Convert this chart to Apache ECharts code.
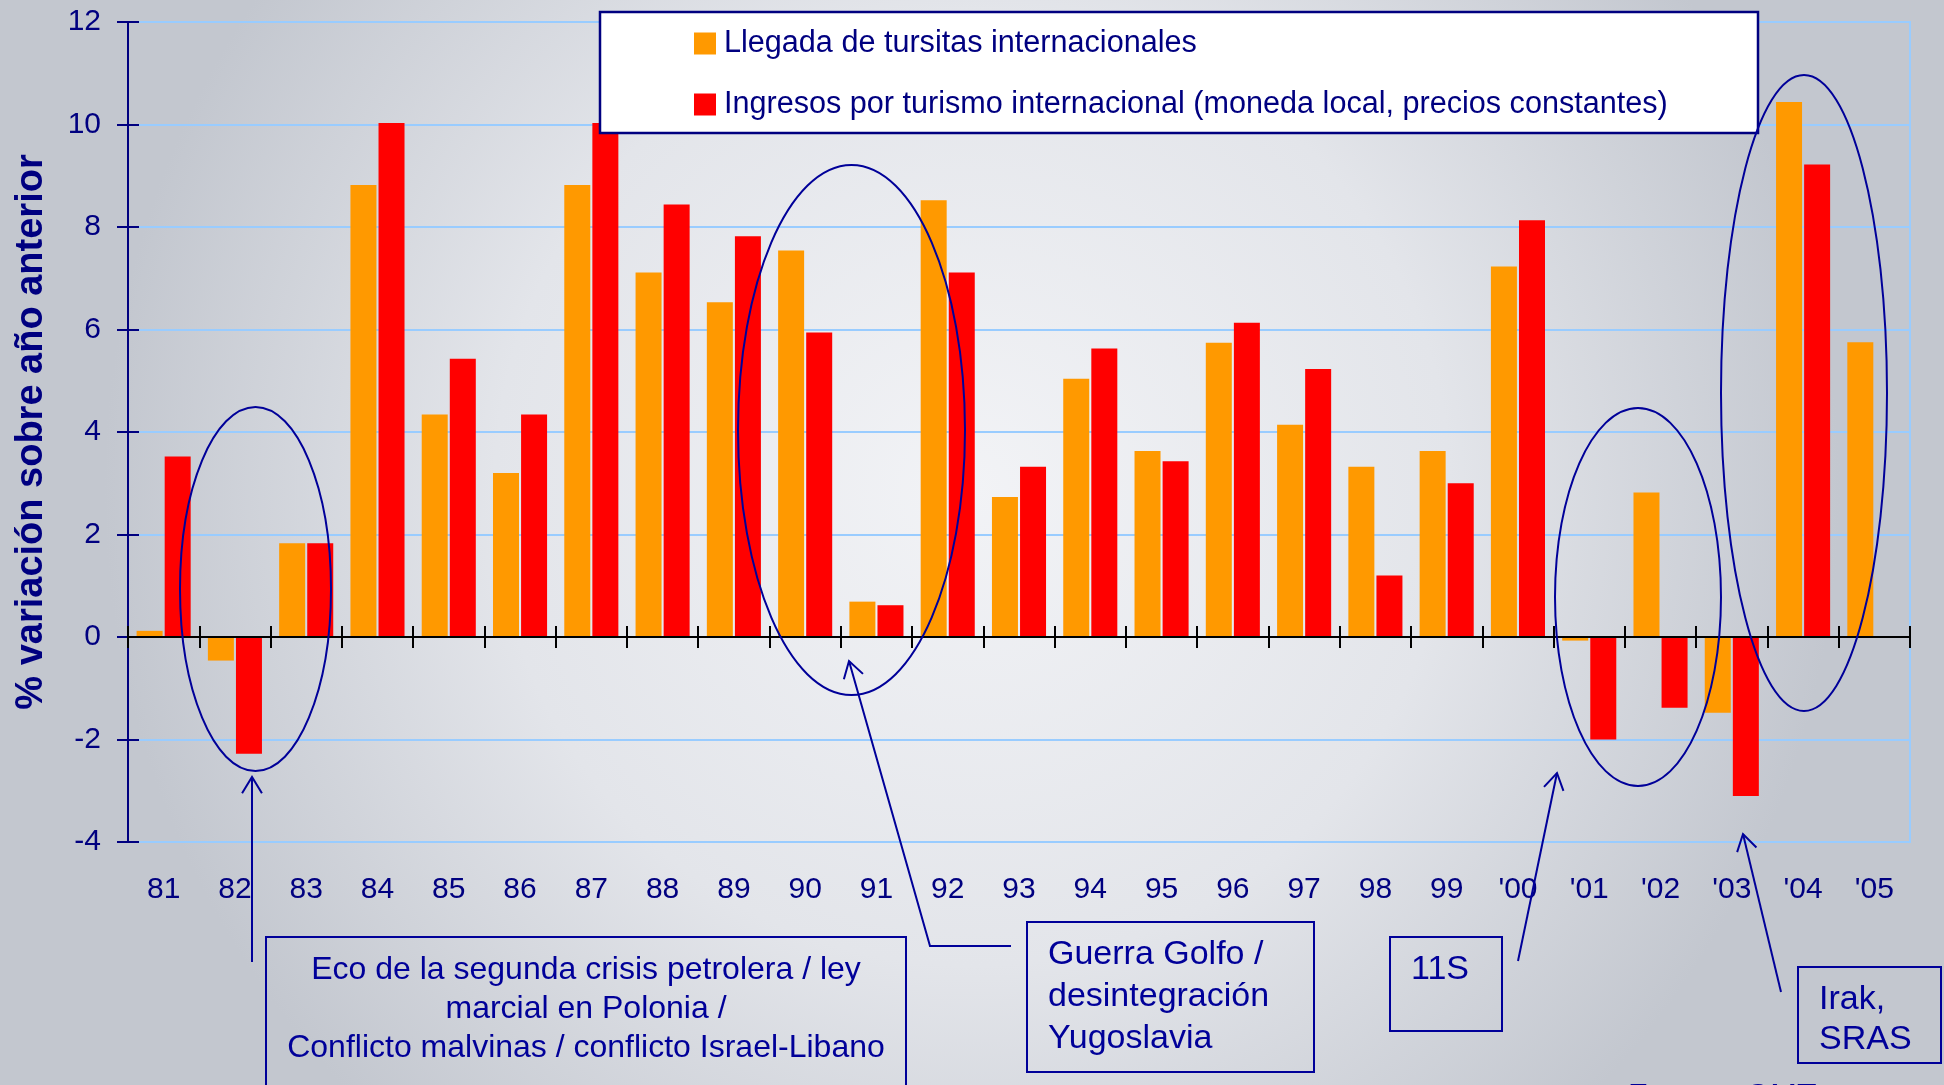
<!DOCTYPE html>
<html><head><meta charset="utf-8">
<script src="https://cdn.jsdelivr.net/npm/echarts@6/dist/echarts.min.js"></script>
<style>html,body{margin:0;padding:0;background:#d6d9df}#c{width:1944px;height:1085px}</style>
</head><body><div id="c"></div>
<script>
// ---- data ----
const years = ['81','82','83','84','85','86','87','88','89','90','91','92','93','94','95','96','97','98','99',"'00","'01","'02","'03","'04","'05"];
const llegadas = [0.12,-0.46,1.83,8.82,4.34,3.2,8.82,7.11,6.53,7.54,0.69,8.52,2.73,5.04,3.63,5.74,4.14,3.32,3.63,7.23,-0.07,2.82,-1.48,10.44,5.75];
const ingresos = [3.52,-2.28,1.83,10.03,5.43,4.34,10.03,8.44,7.82,5.94,0.62,7.11,3.32,5.63,3.43,6.13,5.23,1.2,3.0,8.13,-2.0,-1.38,-3.1,9.22,null];
const seriesNames = ['Llegada de tursitas internacionales','Ingresos por turismo internacional (moneda local, precios constantes)'];
const yMin = -4, yMax = 12, yStep = 2;
const yTitle = '% variación sobre año anterior';
const notes = {
  eco: ['Eco de la segunda crisis petrolera / ley','marcial en Polonia /','Conflicto malvinas / conflicto Israel-Libano'],
  golfo: ['Guerra Golfo /','desintegración','Yugoslavia'],
  s11: ['11S'],
  irak: ['Irak,','SRAS'],
  fuente: 'Fuente: OMT'
};

// ---- styles ----
const FONT = "'Liberation Sans', Arial, sans-serif";
const NAVY = '#000080';
const BLUE = '#000099';
const GRIDC = '#99ccff';

function font(sz, bold){ return (bold?'bold ':'') + sz + 'px ' + FONT; }
function txt(t, x, y, sz, align){
  return {type:'text', z:10, style:{text:t, x:x, y:y, font:font(sz), fill:BLUE,
    align:align||'left', verticalAlign:'middle'}};
}
function box(x, y, w, h){
  return {type:'rect', z:9, shape:{x:x,y:y,width:w,height:h},
    style:{fill:'none', stroke:BLUE, lineWidth:2}};
}
function ell(cx, cy, rx, ry){
  return {type:'ellipse', z:9, shape:{cx:cx,cy:cy,rx:rx,ry:ry},
    style:{fill:'none', stroke:BLUE, lineWidth:2}};
}
function arrow(pts){
  const n = pts.length, tip = pts[n-1], prev = pts[n-2];
  const ang = Math.atan2(tip[1]-prev[1], tip[0]-prev[0]);
  const L = 19, a = 0.55;
  const w1 = [tip[0]-L*Math.cos(ang-a), tip[1]-L*Math.sin(ang-a)];
  const w2 = [tip[0]-L*Math.cos(ang+a), tip[1]-L*Math.sin(ang+a)];
  return [
    {type:'polyline', z:9, shape:{points:pts}, style:{fill:'none', stroke:BLUE, lineWidth:2}},
    {type:'polyline', z:9, shape:{points:[w1, tip, w2]}, style:{fill:'none', stroke:BLUE, lineWidth:2}}
  ];
}

const graphics = [
  // legend frame
  {type:'rect', z:3, shape:{x:600,y:12,width:1158,height:121}, style:{fill:'#ffffff', stroke:NAVY, lineWidth:2.5}},
  // ellipses
  ell(255.5, 589, 75.5, 182),
  ell(851.5, 430, 113.5, 265),
  ell(1638, 597, 83, 189),
  ell(1804, 393, 83, 318),
  // arrows
  ...arrow([[252,962],[252,777]]),
  ...arrow([[1011,946],[930,946],[849,661]]),
  ...arrow([[1518,961],[1557,773]]),
  ...arrow([[1781,992],[1743,834]]),
  // boxes
  box(266, 937, 640, 170),
  box(1027, 922, 287, 150),
  box(1390, 937, 112, 94),
  box(1798, 967, 143, 96)
];
notes.eco.forEach((t,i)=>graphics.push(txt(t, 586, 970 + i*39, 32, 'center')));
notes.golfo.forEach((t,i)=>graphics.push(txt(t, 1048, 955 + i*42, 34)));
notes.s11.forEach((t,i)=>graphics.push(txt(t, 1411, 970, 34)));
notes.irak.forEach((t,i)=>graphics.push(txt(t, 1819, 1000 + i*40, 34)));
graphics.push(txt(notes.fuente, 1628, 1097, 32));

const option = {
  animation:false,
  backgroundColor:{type:'radial', x:0.5, y:0.45, r:0.8,
    colorStops:[{offset:0,color:'#f2f3f6'},{offset:0.55,color:'#e3e5ea'},{offset:1,color:'#c3c7cf'}]},
  grid:{left:128, right:34, top:22, bottom:243, containLabel:false, outerBoundsMode:'none',
    show:true, borderColor:GRIDC, borderWidth:2, backgroundColor:'transparent'},
  legend:{
    data:seriesNames, orient:'vertical', left:694, top:28, padding:0,
    itemWidth:22, itemHeight:22, itemGap:30, icon:'rect', z:4, selectedMode:false,
    textStyle:{fontSize:30.6, lineHeight:30, color:NAVY, fontFamily:FONT, padding:[0,0,0,3]}
  },
  xAxis:[
    {type:'category', data:years, position:'bottom', z:3,
      axisLine:{onZero:true, onZeroAxisIndex:0, lineStyle:{color:'#000', width:2}},
      axisTick:{show:true, length:11, lineStyle:{color:'#000', width:2}},
      axisLabel:{show:false}, splitLine:{show:false}},
    {type:'category', data:years, position:'bottom', z:3,
      axisLine:{show:false, onZero:true, onZeroAxisIndex:0},
      axisTick:{show:true, inside:true, length:11, lineStyle:{color:'#000', width:2}},
      axisLabel:{show:false}, splitLine:{show:false}},
    {type:'category', data:years, position:'bottom',
      axisLine:{show:false, onZero:false}, axisTick:{show:false},
      axisLabel:{show:true, margin:33, fontSize:30, color:NAVY, fontFamily:FONT, interval:0},
      splitLine:{show:false}}
  ],
  yAxis:[
    {type:'value', min:yMin, max:yMax, interval:yStep, position:'left',
      name:yTitle, nameLocation:'middle', nameGap:77, nameRotate:90,
      nameTextStyle:{fontSize:38, fontWeight:'bold', color:NAVY, fontFamily:FONT},
      axisLine:{show:true, lineStyle:{color:NAVY, width:2}},
      axisTick:{show:true, length:11, lineStyle:{color:NAVY, width:2}},
      axisLabel:{margin:27, fontSize:30, color:NAVY, fontFamily:FONT},
      splitLine:{show:true, lineStyle:{color:GRIDC, width:2}}},
    {type:'value', min:yMin, max:yMax, interval:yStep, position:'left',
      axisLine:{show:false},
      axisTick:{show:true, inside:true, length:11, lineStyle:{color:NAVY, width:2}},
      axisLabel:{show:false}, splitLine:{show:false}}
  ],
  series:[
    {name:seriesNames[0], type:'bar', data:llegadas, barWidth:26, barGap:'8%', itemStyle:{color:'#ff9900'}},
    {name:seriesNames[1], type:'bar', data:ingresos, barWidth:26, barGap:'8%', itemStyle:{color:'#ff0000'}}
  ],
  graphic:graphics
};
const chart = echarts.init(document.getElementById('c'));
chart.setOption(option);
</script></body></html>
